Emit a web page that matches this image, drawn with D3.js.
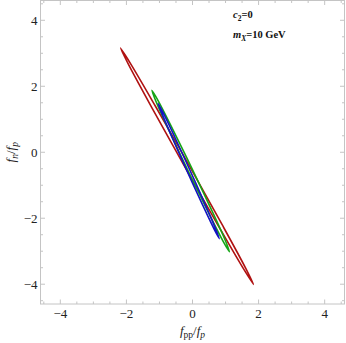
<!DOCTYPE html>
<html lang="en">
<head>
    <meta charset="UTF-8">
    <title>fn/fp vs fpp/fp contours</title>
    <script src="https://d3js.org/d3.v7.min.js"></script>
    <style>
        body { margin: 0; background: #fff; }
        svg { display: block; }
        .tick-label { font-family: 'Liberation Serif', 'DejaVu Serif', serif; font-size: 13px; fill: #222; }
        .axis-title { font-family: 'Liberation Serif', 'DejaVu Serif', serif; font-size: 13px; fill: #222; }
        .note { font-family: 'Liberation Serif', 'DejaVu Serif', serif; font-size: 10.5px; font-weight: bold; fill: #111; }
        .contour { fill: none; stroke-width: 1.6; stroke-linejoin: round; }
    </style>
</head>
<body>
<div id="chart"></div>
<script>
    // axis ranges and ticks (same on both axes)
    const xDomain = [-4.6, 4.6];
    const yDomain = [-4.6, 4.6];
    const majorTicks = [-4, -2, 0, 2, 4];
    const minorTicks = [-4.5, -3.5, -3, -2.5, -1.5, -1, -0.5, 0.5, 1, 1.5, 2.5, 3, 3.5, 4.5];

    // closed contours, points as [fpp/fp, fn/fp]
    const redContour = [
        [1.849, -4.009], [1.608, -3.513], [0.893, -2.189], [-0.107, -0.392],
        [-1.121, 1.395], [-1.880, 2.695], [-2.179, 3.159], [-1.938, 2.663],
        [-1.223, 1.339], [-0.223, -0.458], [0.791, -2.245], [1.550, -3.545]
    ];
    const greenContour = [
        [1.120, -3.020], [0.994, -2.677], [0.586, -1.770], [0.006, -0.541],
        [-0.590, 0.680], [-1.042, 1.567], [-1.230, 1.880], [-1.104, 1.537],
        [-0.696, 0.630], [-0.116, -0.599], [0.480, -1.820], [0.932, -2.707]
    ];
    const blueContour = [
        [0.810, -2.620], [0.707, -2.336], [0.383, -1.579], [-0.074, -0.552],
        [-0.542, 0.471], [-0.896, 1.214], [-1.040, 1.480], [-0.937, 1.196],
        [-0.613, 0.439], [-0.156, -0.589], [0.312, -1.611], [0.666, -2.354]
    ];

    const contours = [
        { pts: redContour, color: '#b01212' },
        { pts: greenContour, color: '#16a516' },
        { pts: blueContour, color: '#1414c2' }
    ];

    const svgWidth = 346;
    const svgHeight = 343;
    const margin = { top: 0.5, right: 1.5, bottom: 39, left: 40.5 };
    const width = svgWidth - margin.left - margin.right;
    const height = svgHeight - margin.top - margin.bottom;

    const x = d3.scaleLinear().domain(xDomain).range([margin.left, margin.left + width]);
    const y = d3.scaleLinear().domain(yDomain).range([margin.top + height, margin.top]);

    const svg = d3.select('#chart').append('svg')
        .attr('width', svgWidth)
        .attr('height', svgHeight);

    // --- contours ---
    const line = d3.line()
        .x(d => x(d[0]))
        .y(d => y(d[1]))
        .curve(d3.curveCatmullRomClosed.alpha(0.5));

    svg.append('g').selectAll('path')
        .data(contours)
        .join('path')
        .attr('class', 'contour')
        .attr('stroke', d => d.color)
        .attr('d', d => line(d.pts));

    // --- frame ---
    const frameColor = '#c4c4c4';
    svg.append('rect')
        .attr('x', x(xDomain[0]))
        .attr('y', y(yDomain[1]))
        .attr('width', width)
        .attr('height', height)
        .attr('fill', 'none')
        .attr('stroke', frameColor)
        .attr('stroke-width', 1);

    // ticks pointing inwards on all four sides
    const tickG = svg.append('g').attr('stroke', frameColor).attr('stroke-width', 1);
    function drawTicks(values, len) {
        values.forEach(v => {
            const px = x(v), py = y(v);
            tickG.append('line').attr('x1', px).attr('x2', px).attr('y1', y(yDomain[0])).attr('y2', y(yDomain[0]) - len);
            tickG.append('line').attr('x1', px).attr('x2', px).attr('y1', y(yDomain[1])).attr('y2', y(yDomain[1]) + len);
            tickG.append('line').attr('y1', py).attr('y2', py).attr('x1', x(xDomain[0])).attr('x2', x(xDomain[0]) + len);
            tickG.append('line').attr('y1', py).attr('y2', py).attr('x1', x(xDomain[1])).attr('x2', x(xDomain[1]) - len);
        });
    }
    drawTicks(majorTicks, 4.5);
    drawTicks(minorTicks, 2.5);

    // tick labels
    const fmt = v => (v < 0 ? '\u2212' + Math.abs(v) : String(v));
    svg.append('g').selectAll('text')
        .data(majorTicks)
        .join('text')
        .attr('class', 'tick-label')
        .attr('x', d => x(d))
        .attr('y', y(yDomain[0]) + 14)
        .attr('text-anchor', 'middle')
        .text(fmt);

    svg.append('g').selectAll('text')
        .data(majorTicks)
        .join('text')
        .attr('class', 'tick-label')
        .attr('x', x(xDomain[0]) - 3)
        .attr('y', d => y(d) + 4.5)
        .attr('text-anchor', 'end')
        .text(fmt);

    // axis titles
    const xt = svg.append('text')
        .attr('class', 'axis-title')
        .attr('x', x(0))
        .attr('y', 335)
        .attr('text-anchor', 'middle');
    xt.append('tspan').attr('font-style', 'italic').text('f');
    xt.append('tspan').attr('font-size', '9.5px').attr('dy', 3).text('pp');
    xt.append('tspan').attr('dy', -3).text('/');
    xt.append('tspan').attr('font-style', 'italic').text('f');
    xt.append('tspan').attr('font-style', 'italic').attr('font-size', '9.5px').attr('dy', 3).text('p');

    const yt = svg.append('text')
        .attr('class', 'axis-title')
        .attr('transform', `translate(15, ${y(0)}) rotate(-90)`)
        .attr('text-anchor', 'middle');
    yt.append('tspan').attr('font-style', 'italic').text('f');
    yt.append('tspan').attr('font-style', 'italic').attr('font-size', '9.5px').attr('dy', 3).text('n');
    yt.append('tspan').attr('dy', -3).text('/');
    yt.append('tspan').attr('font-style', 'italic').text('f');
    yt.append('tspan').attr('font-style', 'italic').attr('font-size', '9.5px').attr('dy', 3).text('p');

    // annotations in the top right corner
    const n1 = svg.append('text').attr('class', 'note').attr('x', 233).attr('y', 18);
    n1.append('tspan').attr('font-style', 'italic').text('c');
    n1.append('tspan').attr('font-size', '7.5px').attr('dy', 2.5).text('2');
    n1.append('tspan').attr('dy', -2.5).text('=0');

    const n2 = svg.append('text').attr('class', 'note').attr('x', 233).attr('y', 38);
    n2.append('tspan').attr('font-style', 'italic').text('m');
    n2.append('tspan').attr('font-style', 'italic').attr('font-size', '7.5px').attr('dy', 2.5).text('X');
    n2.append('tspan').attr('dy', -2.5).text('=10 GeV');
</script>
</body>
</html>
